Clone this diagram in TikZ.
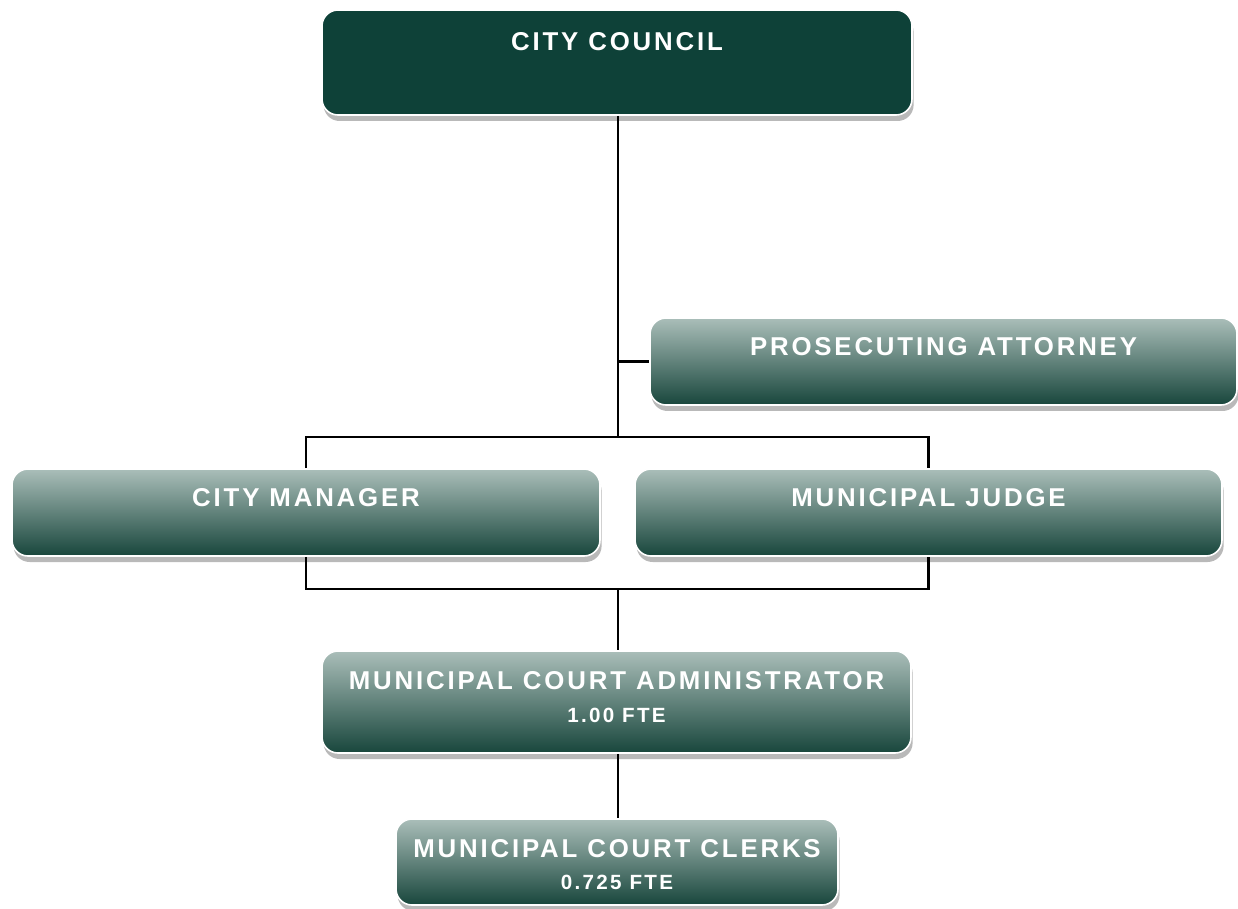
\documentclass[tikz,border=0pt]{standalone}
\usepackage{fontspec}
\setmainfont{Liberation Sans}
\newfontfamily\chartfont{Liberation Sans}[LetterSpace=11]
\usepackage{tikz}
\usetikzlibrary{positioning, shadows}

\definecolor{councilgreen}{RGB}{14,65,56}
\definecolor{officetop}{RGB}{170,190,185}
\definecolor{officebottom}{RGB}{24,70,60}
\definecolor{shadowgrey}{RGB}{185,185,185}

\begin{document}
\begin{tikzpicture}
  [x=0.5pt, y=-0.5pt,
   office/.style={rectangle, rounded corners=8pt, draw=white, line width=0.8pt,
                  top color=officetop, bottom color=officebottom,
                  drop shadow={shadow xshift=0.8pt, shadow yshift=-3pt,
                               fill=shadowgrey, opacity=1},
                  inner sep=0pt, minimum height=43.5pt},
   council/.style={office, fill=councilgreen, top color=councilgreen,
                   bottom color=councilgreen},
   title/.style={text=white, font=\chartfont\bfseries\fontsize{12.9}{14}\selectfont,
                 inner sep=0pt},
   fte/.style={text=white, font=\chartfont\bfseries\fontsize{10.3}{12}\selectfont,
               inner sep=0pt},
   link/.style={draw=black, line width=1.1pt}]
  \useasboundingbox (0,0) rectangle (1238,909);

  % boxes
  \node[council] (council) at (617,62.5)    [minimum width=295pt, minimum height=52.5pt] {};
  \node[office]  (attorney) at (943.5,361.5) [minimum width=293.5pt] {};
  \node[office]  (manager) at (306,512.5)    [minimum width=294pt] {};
  \node[office]  (judge)   at (928.5,512.5)  [minimum width=293.5pt] {};
  \node[office]  (admin)   at (616.5,702)    [minimum width=294.5pt, minimum height=51pt] {};
  \node[office]  (clerks)  at (617,862)      [minimum width=221pt, minimum height=43pt] {};

  % texts
  \node[title] (council text)  at ([yshift=-16pt]council.north) {CITY COUNCIL};
  \node[title] (attorney text) at ([yshift=-14.5pt]attorney.north) {PROSECUTING ATTORNEY};
  \node[title] (manager text)  at ([yshift=-14.5pt]manager.north) {CITY MANAGER};
  \node[title] (judge text)    at ([yshift=-14.5pt]judge.north) {MUNICIPAL JUDGE};
  \node[title] (admin text)    at ([yshift=-15pt]admin.north) {MUNICIPAL COURT ADMINISTRATOR};
  \node[fte]   (admin fte)     at ([yshift=-32.5pt]admin.north) {1.00 FTE};
  \node[title] (clerks text)   at ([yshift=-15pt]clerks.north) {MUNICIPAL COURT CLERKS};
  \node[fte]   (clerks fte)    at ([yshift=-32pt]clerks.north) {0.725 FTE};

  % connectors
  \coordinate (upper bus) at (618,437);
  \coordinate (lower bus) at (618,589);
  \draw[link] (council.south -| upper bus) -- (upper bus);
  \draw[link] (attorney.west -| upper bus) -- (attorney.west);
  \draw[link] (manager.north) |- (upper bus) -| (judge.north);
  \draw[link] (manager.south) |- (lower bus) -| (judge.south);
  \draw[link] (lower bus) -- (lower bus |- admin.north);
  \draw[link] (admin.south -| lower bus) -- (clerks.north -| lower bus);
\end{tikzpicture}
\end{document}
